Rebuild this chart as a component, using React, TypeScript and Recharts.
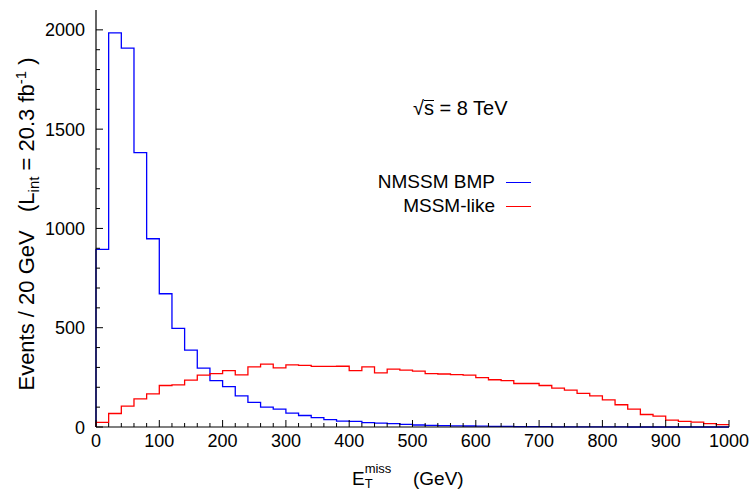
import React from 'react';
import { ComposedChart, Line, XAxis, YAxis, Legend } from 'recharts';

// Lower edges of the 20 GeV bins of E_T^miss
const BIN_EDGES = [
  0, 20, 40, 60, 80, 100, 120, 140, 160, 180,
  200, 220, 240, 260, 280, 300, 320, 340, 360, 380,
  400, 420, 440, 460, 480, 500, 520, 540, 560, 580,
  600, 620, 640, 660, 680, 700, 720, 740, 760, 780,
  800, 820, 840, 860, 880, 900, 920, 940, 960, 980,
];
const X_END = 1000;

// Events per bin
const NMSSM_BMP = [
  895, 1985, 1908, 1382, 948, 671, 497, 387, 296, 234,
  203, 157, 124, 100, 90, 70, 58, 47, 37, 30,
  28, 22, 20, 17, 13, 10, 8, 7, 6, 5,
  4, 3, 3, 2, 2, 2, 1, 1, 1, 1,
  1, 1, 0, 0, 0, 0, 0, 0, 0, 0,
];
const MSSM_LIKE = [
  23, 68, 105, 142, 167, 209, 212, 236, 261, 269,
  284, 263, 303, 317, 298, 313, 310, 305, 305, 306,
  284, 303, 273, 291, 286, 281, 269, 267, 264, 261,
  249, 238, 234, 219, 219, 209, 196, 186, 169, 157,
  137, 112, 90, 63, 55, 35, 28, 25, 17, 12,
];

const SERIES_NAMES = ['NMSSM BMP', 'MSSM-like'];

const X_MAJOR_TICKS = [0, 100, 200, 300, 400, 500, 600, 700, 800, 900, 1000];
const Y_MAJOR_TICKS = [0, 500, 1000, 1500, 2000];
const Y_TICKS = [
  0, 100, 200, 300, 400, 500, 600, 700, 800, 900, 1000,
  1100, 1200, 1300, 1400, 1500, 1600, 1700, 1800, 1900, 2000,
];
const Y_MAX = 2100;

const X_TICKS = [...BIN_EDGES, X_END];

const data = [
  { e: BIN_EDGES[0], nmssm: 0, mssm: 0 },
  ...BIN_EDGES.map((e, i) => ({ e, nmssm: NMSSM_BMP[i], mssm: MSSM_LIKE[i] })),
  { e: X_END, nmssm: NMSSM_BMP[NMSSM_BMP.length - 1], mssm: MSSM_LIKE[MSSM_LIKE.length - 1] },
];

const FONT = '"Liberation Sans", Arial, Helvetica, sans-serif';

function XTick(props: any) {
  const { x, y, payload } = props;
  const v = payload.value;
  const major = X_MAJOR_TICKS.includes(v);
  return (
    <g>
      <line x1={x} x2={x} y1={y} y2={y - (major ? 7 : 4)} stroke="#000" strokeWidth={1} />
      {major && (
        <text x={x} y={y + 20} textAnchor="middle" fontSize={18} fontFamily={FONT} fill="#000">
          {v}
        </text>
      )}
    </g>
  );
}

function YTick(props: any) {
  const { x, y, payload } = props;
  const v = payload.value;
  const major = Y_MAJOR_TICKS.includes(v);
  return (
    <g>
      <line x1={x} x2={x + (major ? 7 : 4)} y1={y} y2={y} stroke="#000" strokeWidth={1} />
      {major && (
        <text x={x - 11} y={y + 6.5} textAnchor="end" fontSize={18} fontFamily={FONT} fill="#000">
          {v}
        </text>
      )}
    </g>
  );
}

function YTitle() {
  const cx = 34;
  const cy = 224;
  return (
    <text
      x={cx}
      y={cy}
      transform={`rotate(-90 ${cx} ${cy})`}
      textAnchor="middle"
      fontSize={22}
      fontFamily={FONT}
      fill="#000"
    >
      {'Events / 20 GeV\u00a0\u00a0\u00a0(L'}
      <tspan dy={5} fontSize={15}>int</tspan>
      <tspan dy={-5} fontSize={22}>{'\u00a0=\u00a020.3\u00a0fb'}</tspan>
      <tspan dy={-8} fontSize={15}>-1</tspan>
      <tspan dy={8} fontSize={22}>{'\u00a0)'}</tspan>
    </text>
  );
}

function XTitle() {
  return (
    <text x={352} y={485} fontSize={19} fontFamily={FONT} fill="#000">
      E
      <tspan dy={3} fontSize={13}>T</tspan>
      <tspan dx={-8} dy={-15} fontSize={13}>miss</tspan>
      <tspan x={413} dy={12} fontSize={19}>(GeV)</tspan>
    </text>
  );
}

function LegendContent(props: any) {
  const payload = [...(props.payload || [])].sort(
    (a: any, b: any) => SERIES_NAMES.indexOf(a.value) - SERIES_NAMES.indexOf(b.value)
  );
  return (
    <div style={{ fontFamily: FONT, fontSize: 19, color: '#000' }}>
      {payload.map((p: any) => (
        <div
          key={p.value}
          style={{ display: 'flex', justifyContent: 'flex-end', alignItems: 'center', height: 24, lineHeight: '24px' }}
        >
          <span>{p.value}</span>
          <span style={{ display: 'inline-block', width: 25, height: 0, borderTop: `1.3px solid ${p.color}`, marginLeft: 11 }} />
        </div>
      ))}
    </div>
  );
}

export default function App() {
  const axisLine = { stroke: '#000', strokeWidth: 1.2 };
  return (
    <div style={{ position: 'absolute', left: 0, top: 0, width: 755, height: 490, background: '#fff' }}>
      <ComposedChart width={755} height={490} data={data} margin={{ top: 10, right: 26, bottom: 0, left: 0 }}>
        <XAxis
          dataKey="e"
          type="number"
          domain={[0, X_END]}
          ticks={X_TICKS}
          interval={0}
          tickSize={0}
          tickMargin={0}
          tick={<XTick />}
          tickLine={false}
          axisLine={axisLine}
          height={63}
          label={<XTitle />}
        />
        <XAxis
          xAxisId="top"
          orientation="top"
          type="number"
          domain={[0, X_END]}
          height={0}
          tick={false}
          tickLine={false}
          axisLine={axisLine}
        />
        <YAxis
          type="number"
          domain={[0, Y_MAX]}
          ticks={Y_TICKS}
          interval={0}
          tickSize={0}
          tickMargin={0}
          tick={<YTick />}
          tickLine={false}
          axisLine={axisLine}
          width={96}
          label={<YTitle />}
        />
        <YAxis
          yAxisId="right"
          orientation="right"
          type="number"
          domain={[0, Y_MAX]}
          width={0}
          tick={false}
          tickLine={false}
          axisLine={axisLine}
        />
        <Line
          type="stepAfter"
          dataKey="nmssm"
          name={SERIES_NAMES[0]}
          stroke="#0000ff"
          strokeWidth={1.3}
          dot={false}
          activeDot={false}
          isAnimationActive={false}
        />
        <Line
          type="stepAfter"
          dataKey="mssm"
          name={SERIES_NAMES[1]}
          stroke="#ff0000"
          strokeWidth={1.3}
          dot={false}
          activeDot={false}
          isAnimationActive={false}
        />
        <Legend
          layout="horizontal"
          verticalAlign="middle"
          align="center"
          content={<LegendContent />}
          wrapperStyle={{ left: 300, top: 170, width: 231, bottom: 'auto' }}
        />
      </ComposedChart>
      <div
        style={{
          position: 'absolute',
          left: 413,
          top: 96,
          fontFamily: FONT,
          fontSize: 20,
          lineHeight: '24px',
          whiteSpace: 'pre',
          color: '#000',
        }}
      >
        √<span style={{ display: 'inline-block', lineHeight: '14px', borderTop: '1.2px solid #000' }}>s</span> = 8 TeV
      </div>
    </div>
  );
}
